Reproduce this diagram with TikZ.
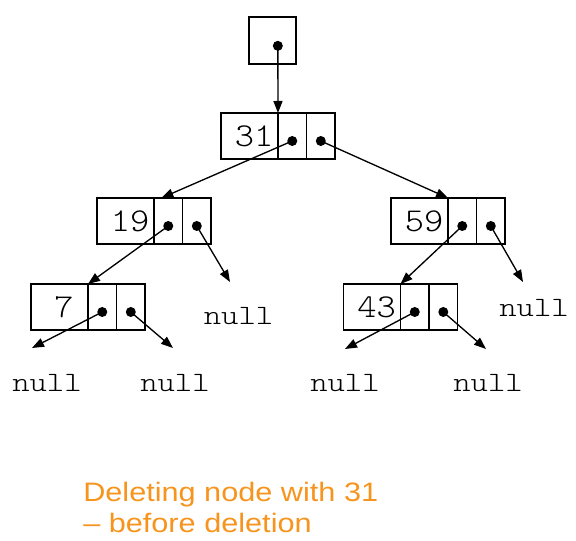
\documentclass[tikz,border=0pt]{standalone}
\usepackage{fontspec}
\usepackage{tikz}
\usetikzlibrary{positioning, arrows.meta, calc}

\newfontfamily\notefont[FakeStretch=1.15]{Liberation Sans}
\newfontfamily\cellfont[Extension=.otf, FakeStretch=1.1]{lmmonolt10-regular}
\newfontfamily\nulltextfont[Extension=.otf, FakeStretch=1.18]{lmmonolt10-regular}
\definecolor{noteorange}{RGB}{247,148,30}

\tikzset{
	val cell/.style={draw, line width=1.3pt, minimum width=42.75pt, minimum height=34.5pt, inner sep=0pt, outer sep=0pt, font=\cellfont\fontsize{25}{30}\selectfont, execute at begin node={\hskip6.75pt}},
	ptr cell/.style={draw, line width=1.3pt, minimum width=21.4pt, minimum height=34.5pt, inner sep=0pt, outer sep=0pt},
	ptr dot/.style={circle, fill, inner sep=0pt, minimum size=7.5pt},
	link/.style={-{Triangle[length=9pt, width=6.75pt]}, line width=1pt},
	null label/.style={anchor=base, inner sep=0pt, font=\nulltextfont\fontsize{21}{25}\selectfont},
	note/.style={anchor=base west, inner sep=0pt, text=noteorange, font=\notefont\fontsize{20}{24}\selectfont}
}

\begin{document}
\begin{tikzpicture}[x=0.75pt, y=-0.75pt]
	\useasboundingbox (0, 0) rectangle (576, 541);
	\def\drop{3.75pt}

	\node[ptr cell, minimum width=35.25pt, minimum height=35.25pt] (root) at (272.5, 40.5) {};
	\node[ptr dot] (root dot) at ([xshift=4pt, yshift=-4pt]root.center) {};

	\node[val cell] (n31 val) at (249.5, 136) {31};
	\node[ptr cell, right=0pt of n31 val] (n31 l) {};
	\node[ptr cell, right=0pt of n31 l] (n31 r) {};
	\node[ptr dot] (n31 l dot) at ([yshift=-\drop]n31 l.center) {};
	\node[ptr dot] (n31 r dot) at ([yshift=-\drop]n31 r.center) {};

	\node[val cell] (n19 val) at (125.5, 221) {19};
	\node[ptr cell, right=0pt of n19 val] (n19 l) {};
	\node[ptr cell, right=0pt of n19 l] (n19 r) {};
	\node[ptr dot] (n19 l dot) at ([yshift=-\drop]n19 l.center) {};
	\node[ptr dot] (n19 r dot) at ([yshift=-\drop]n19 r.center) {};

	\node[val cell] (n59 val) at (419.5, 221) {59};
	\node[ptr cell, right=0pt of n59 val] (n59 l) {};
	\node[ptr cell, right=0pt of n59 l] (n59 r) {};
	\node[ptr dot] (n59 l dot) at ([yshift=-\drop]n59 l.center) {};
	\node[ptr dot] (n59 r dot) at ([yshift=-\drop]n59 r.center) {};

	\node[val cell] (n7 val) at (59.5, 307) {7};
	\node[ptr cell, right=0pt of n7 val] (n7 l) {};
	\node[ptr cell, right=0pt of n7 l] (n7 r) {};
	\node[ptr dot] (n7 l dot) at ([yshift=-\drop]n7 l.center) {};
	\node[ptr dot] (n7 r dot) at ([yshift=-\drop]n7 r.center) {};

	\node[val cell] (n43 val) at (372, 307) {43};
	\node[ptr cell, right=0pt of n43 val] (n43 l) {};
	\node[ptr cell, right=0pt of n43 l] (n43 r) {};
	\node[ptr dot] (n43 l dot) at ([yshift=-\drop]n43 l.center) {};
	\node[ptr dot] (n43 r dot) at ([yshift=-\drop]n43 r.center) {};

	% links between nodes
	\draw[link] (root dot.center) -- (n31 val.north east);
	\draw[link] (n31 l dot.center) -- ([xshift=5.5pt]n19 l.north west);
	\draw[link] (n31 r dot.center) -- (n59 l.north west);
	\draw[link] (n19 l dot.center) -- (n7 l.north west);
	\draw[link] (n59 l dot.center) -- (n43 l.north west);

	% links to null
	\coordinate (n19 r end) at (230, 282);
	\coordinate (n59 r end) at (523, 282);
	\coordinate (n7 l end) at (32, 348);
	\coordinate (n7 r end) at (173, 348);
	\coordinate (n43 l end) at (345, 349);
	\coordinate (n43 r end) at (486, 349);
	\draw[link] (n19 r dot.center) -- (n19 r end);
	\draw[link] (n59 r dot.center) -- (n59 r end);
	\draw[link] (n7 l dot.center) -- (n7 l end);
	\draw[link] (n7 r dot.center) -- (n7 r end);
	\draw[link] (n43 l dot.center) -- (n43 l end);
	\draw[link] (n43 r dot.center) -- (n43 r end);

	\node[null label] (n19 r null) at (238.5, 325) {null};
	\node[null label] (n59 r null) at (534, 317) {null};
	\node[null label] (n7 l null) at (47, 392) {null};
	\node[null label] (n7 r null) at (175, 392) {null};
	\node[null label] (n43 l null) at (345, 392) {null};
	\node[null label] (n43 r null) at (488, 392) {null};

	\node[note] (note top) at (83, 502) {Deleting node with 31};
	\node[note] (note bottom) at ([yshift=-23.25pt]note top.base west) {– before deletion};
\end{tikzpicture}
\end{document}
